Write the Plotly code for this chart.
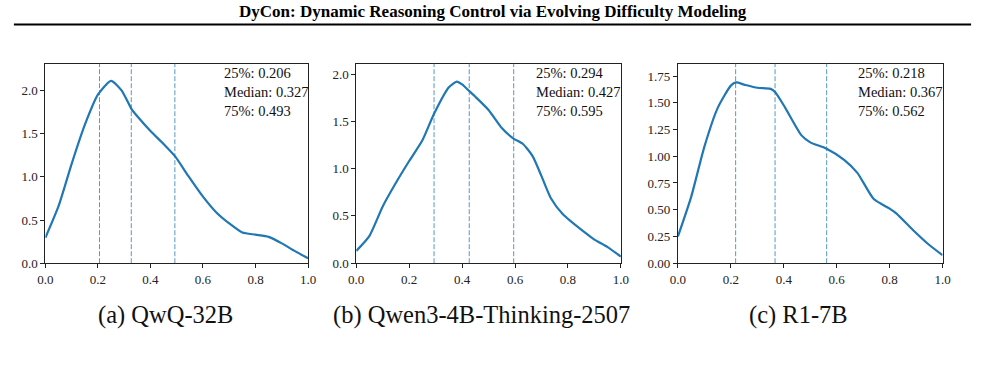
import plotly.graph_objects as go

W, H = 985, 372

# Data
x_a = [0.0, 0.05, 0.1, 0.15, 0.2, 0.25, 0.29, 0.327, 0.35, 0.4, 0.45, 0.494, 0.544, 0.6, 0.65, 0.7, 0.75, 0.8, 0.85, 0.9, 0.95, 1.0]
y_a = [0.295, 0.66, 1.15, 1.60, 1.95, 2.11, 2.00, 1.79, 1.70, 1.53, 1.38, 1.236, 1.01, 0.77, 0.59, 0.46, 0.355, 0.33, 0.305, 0.23, 0.14, 0.057]

x_b = [0.0, 0.05, 0.1, 0.15, 0.2, 0.25, 0.294, 0.35, 0.38, 0.4, 0.427, 0.45, 0.5, 0.55, 0.593, 0.63, 0.667, 0.7, 0.735, 0.78, 0.866, 0.9, 0.95, 1.0]
y_b = [0.13, 0.29, 0.60, 0.85, 1.08, 1.30, 1.58, 1.86, 1.92, 1.89, 1.82, 1.76, 1.62, 1.43, 1.32, 1.26, 1.13, 0.92, 0.69, 0.52, 0.32, 0.25, 0.17, 0.07]

x_c = [0.0, 0.05, 0.1, 0.15, 0.2, 0.22, 0.25, 0.3, 0.35, 0.367, 0.405, 0.467, 0.5, 0.56, 0.628, 0.678, 0.74, 0.8, 0.826, 0.888, 0.95, 1.0]
y_c = [0.25, 0.62, 1.09, 1.45, 1.66, 1.69, 1.67, 1.64, 1.63, 1.60, 1.455, 1.195, 1.13, 1.073, 0.967, 0.845, 0.60, 0.51, 0.464, 0.311, 0.17, 0.075]

quart_a = [0.206, 0.327, 0.493]
quart_b = [0.294, 0.427, 0.595]
quart_c = [0.218, 0.367, 0.562]

ymax = [2.31, 2.11, 1.866]
yticks_a = [0.0, 0.5, 1.0, 1.5, 2.0]
yticks_b = [0.0, 0.5, 1.0, 1.5, 2.0]
yticks_c = [0.0, 0.25, 0.5, 0.75, 1.0, 1.25, 1.5, 1.75]
ytext_a = ["0.0", "0.5", "1.0", "1.5", "2.0"]
ytext_b = ["0.0", "0.5", "1.0", "1.5", "2.0"]
ytext_c = ["0.00", "0.25", "0.50", "0.75", "1.00", "1.25", "1.50", "1.75"]
xticks = [0.0, 0.2, 0.4, 0.6, 0.8, 1.0]
xtext = ["0.0", "0.2", "0.4", "0.6", "0.8", "1.0"]

captions = ["(a) QwQ-32B", "(b) Qwen3-4B-Thinking-2507", "(c) R1-7B"]
caption_x = [160, 481, 804]
title = "DyCon: Dynamic Reasoning Control via Evolving Difficulty Modeling"

# layout pixel boxes
xdom_px = [(38, 305), (354, 623), (681, 950)]
top_px, bot_px = 65, 269
stat_center_px = 94

SERIF = "Liberation Serif, Times New Roman, serif"
BLUE = "#1f77b4"

fig = go.Figure()
xs = [x_a, x_b, x_c]
ys = [y_a, y_b, y_c]
quarts = [quart_a, quart_b, quart_c]
ytv = [yticks_a, yticks_b, yticks_c]
ytt = [ytext_a, ytext_b, ytext_c]

shapes = []
annotations = []
for i in range(3):
    ax = "" if i == 0 else str(i + 1)
    fig.add_trace(go.Scatter(x=xs[i], y=ys[i], mode="lines",
                             line=dict(color=BLUE, width=2.2, shape="spline", smoothing=0.6),
                             xaxis="x" + ax, yaxis="y" + ax, showlegend=False, hoverinfo="skip"))
    x0, x1 = xdom_px[i]
    common = dict(showgrid=False, zeroline=False, showline=True, mirror=True,
                  linecolor="#222", linewidth=1, ticks="outside", ticklen=4,
                  tickcolor="#222", tickwidth=1,
                  tickfont=dict(family=SERIF, size=13, color="#222"))
    fig.update_layout(**{
        "xaxis" + ax: dict(domain=[x0 / W, x1 / W], range=[0, 1], tickvals=xticks,
                           ticktext=xtext, anchor="y" + ax, **common),
        "yaxis" + ax: dict(domain=[1 - bot_px / H, 1 - top_px / H], range=[0, ymax[i]],
                           tickvals=ytv[i], ticktext=ytt[i], anchor="x" + ax, **common),
    })
    for q in quarts[i]:
        shapes.append(dict(type="line", xref="x" + ax, yref="y" + ax + " domain",
                           x0=q, x1=q, y0=0, y1=1,
                           line=dict(color="rgba(31,119,180,0.75)", width=1, dash="5px,2px")))
    text = (f"25%: {quarts[i][0]:.3f}<br>Median: {quarts[i][1]:.3f}"
            f"<br>75%: {quarts[i][2]:.3f}")
    annotations.append(dict(xref="x" + ax + " domain", yref="paper",
                            x=0.675, y=1 - stat_center_px / H, xanchor="left", yanchor="middle",
                            showarrow=False, align="left", text=text, borderpad=0,
                            font=dict(family=SERIF, size=14.5, color="#111")))
    annotations.append(dict(xref="paper", yref="paper", x=caption_x[i] / W, y=1 - 322 / H,
                            xanchor="center", yanchor="middle", showarrow=False,
                            text=captions[i], font=dict(family=SERIF, size=24.5, color="#111")))

annotations.append(dict(xref="paper", yref="paper", x=0.5, y=1 - 12 / H, xanchor="center",
                        yanchor="middle", showarrow=False, text="<b>" + title + "</b>",
                        font=dict(family=SERIF, size=17, color="#000")))
shapes.append(dict(type="line", xref="paper", yref="paper", x0=6 / W, x1=979 / W,
                   y0=1 - 25 / H, y1=1 - 25 / H, line=dict(color="#000", width=2)))

fig.update_layout(width=W, height=H, margin=dict(l=0, r=0, t=0, b=0),
                  paper_bgcolor="white", plot_bgcolor="white",
                  shapes=shapes, annotations=annotations)

fig.write_html("out.html")
